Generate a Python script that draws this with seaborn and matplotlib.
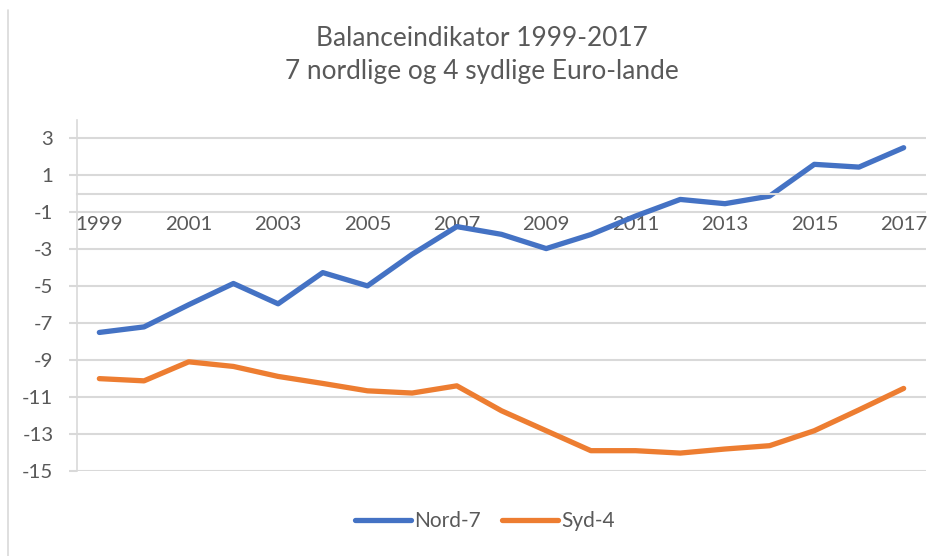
import numpy as np
import pandas as pd
import seaborn as sns
import matplotlib
matplotlib.use("Agg")
import matplotlib.pyplot as plt
from matplotlib.lines import Line2D
from matplotlib.ticker import FixedLocator

years = list(range(1999, 2018))
nord7 = [-7.5, -7.2, -6.0, -4.85, -5.95, -4.26, -4.98, -3.27, -1.77, -2.19,
         -2.96, -2.2, -1.2, -0.3, -0.53, -0.12, 1.6, 1.45, 2.5]
syd4 = [-10.0, -10.12, -9.09, -9.34, -9.88, -10.26, -10.66, -10.78, -10.39, -11.74,
        -12.82, -13.9, -13.9, -14.03, -13.81, -13.63, -12.82, -11.69, -10.53]
series_names = ["Nord-7", "Syd-4"]
yticks = list(range(-15, 4, 2))
xtick_years = list(range(1999, 2018, 2))
title_lines = ["Balanceindikator 1999-2017", "7 nordlige og 4 sydlige Euro-lande"]

df = pd.DataFrame({
    "year": years * 2,
    "value": nord7 + syd4,
    "series": [series_names[0]] * len(years) + [series_names[1]] * len(years),
})

sns.set_style("white")
plt.rcParams['font.family'] = ['Lato', 'DejaVu Sans']
txt = "#595959"
grid = "#d9d9d9"

fig = plt.figure(figsize=(9.44, 5.56), dpi=100)
ax = fig.add_axes([77/944, 1 - 471/556, (926 - 77)/944, (471 - 120)/556])

sns.lineplot(data=df, x="year", y="value", hue="series",
             palette=["#4472C4", "#ED7D31"], linewidth=3.8, ax=ax,
             solid_capstyle="round")

ax.set_xlim(1998.5, 2017.5)
ax.set_ylim(-15, 4)
ax.set_yticks(yticks)
ax.set_yticklabels([str(v) for v in yticks])
ax.yaxis.grid(True, color=grid, linewidth=1.5)
ax.set_axisbelow(True)
ax.set_xlabel("")
ax.set_ylabel("")

ax.xaxis.set_major_locator(FixedLocator(xtick_years))
ax.set_xticklabels([str(y) for y in xtick_years])
ax.xaxis.set_minor_locator(FixedLocator(np.arange(1998.5, 2018, 1.0)))
ax.spines['bottom'].set_position(('data', 0))
ax.spines['bottom'].set_color(grid)
ax.spines['bottom'].set_linewidth(1.5)
ax.spines['left'].set_color(grid)
ax.spines['left'].set_linewidth(1.2)
ax.spines['top'].set_visible(False)
ax.spines['right'].set_visible(False)

ax.tick_params(axis='x', which='major', length=0, pad=16, labelsize=14.7, labelcolor=txt)
ax.tick_params(axis='x', which='minor', length=5, width=1.5, color=grid, direction='out')
ax.tick_params(axis='y', which='major', length=6, width=1.5, color=grid, pad=11,
               labelsize=14.7, labelcolor=txt, left=True)

fig.text(482/944, 1 - 38/556, title_lines[0], ha='center', va='center', fontsize=18.9, color=txt)
fig.text(482/944, 1 - 72/556, title_lines[1], ha='center', va='center', fontsize=18.9, color=txt)

handles, labels = ax.get_legend_handles_labels()
ax.legend(handles, labels, loc='center', bbox_to_anchor=(485/944, 1 - 521/556),
          bbox_transform=fig.transFigure, ncol=2, frameon=False,
          fontsize=15, labelcolor=txt, handlelength=2.7, handletextpad=0.15,
          columnspacing=1.0)

fig.add_artist(Line2D([8/944, 8/944], [0, 1 - 10/556], color=grid, linewidth=1.2))

fig.savefig("out.png", dpi=100)
